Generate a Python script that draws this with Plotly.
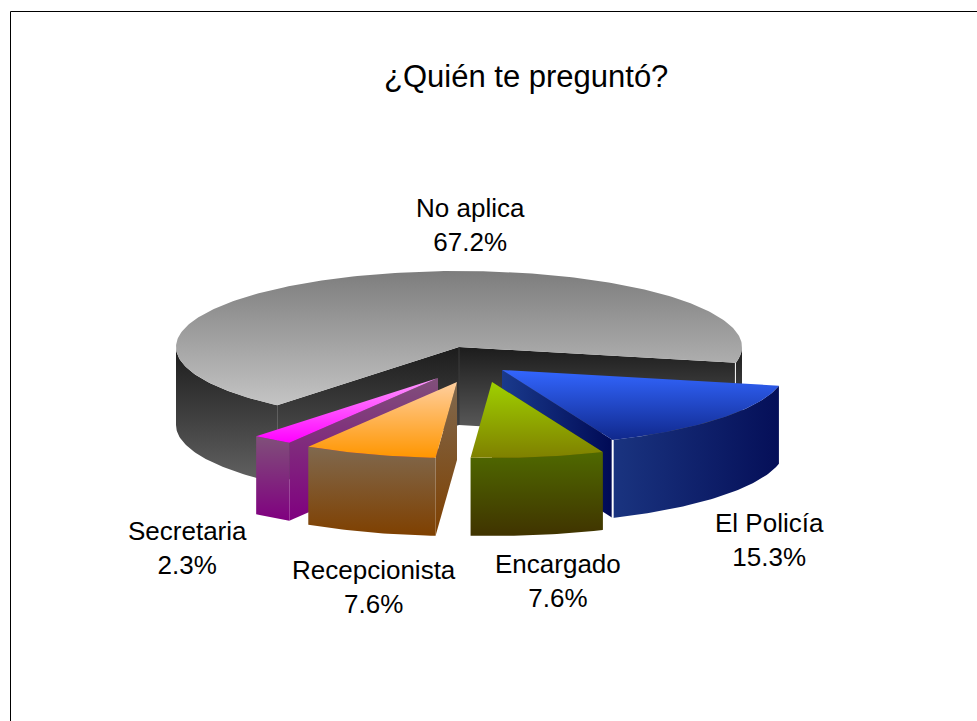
import math
import plotly.graph_objects as go

# ---- data ----
categories = ["El Policía", "Encargado", "Recepcionista", "Secretaria", "No aplica"]
values = [15.3, 7.6, 7.6, 2.3, 67.2]
title_text = "¿Quién te preguntó?"

# ---- styling / projection ----
START_ANGLE = 11.9
CX, CY = 459, 347
RX, RY = 283, 76
DEPTH = 78
FONT = "Liberation Sans"
offsets = {"El Policía": (43, 23), "Encargado": (33, 35), "Recepcionista": (-2, 35),
           "Secretaria": (-21, 31), "No aplica": (0, 0)}
label_pos = {"El Policía": (769, 540), "Encargado": (558, 581), "Recepcionista": (374, 587),
             "Secretaria": (187, 548), "No aplica": (470, 225)}
styles = {
    "No aplica": dict(top=("#7d7d7d", "#c4c4c4"), outer=("#1c1c1c", "#626262"),
                      inner=("#1c1c1c", "#626262")),
    "El Policía": dict(top=("#3366ff", "#10288c"), outer=("#1a3480", "#050f58"),
                       inner=("#1a3a8c", "#000a55"), horiz=True),
    "Encargado": dict(top=("#9fd000", "#7f8000"), outer=("#4f6900", "#403300"),
                      inner=("#4f6900", "#403300")),
    "Recepcionista": dict(top=("#ffcf9f", "#ff9600"), outer=("#80694f", "#7f4000"),
                          inner=("#80694f", "#7f4000")),
    "Secretaria": dict(top=("#ff9cff", "#ff00ff"), outer=("#80507a", "#800080"),
                       inner=("#80507a", "#800080")),
}
draw_order = ["No aplica", "El Policía", "Secretaria", "Recepcionista", "Encargado"]


def pt(a, off, dz=0):
    t = math.radians(a)
    return CX + off[0] + RX * math.cos(t), CY + off[1] + RY * math.sin(t) + dz


def arc(a1, a2, off, dz=0):
    n = max(2, int(abs(a2 - a1)) + 1)
    return [pt(a1 + (a2 - a1) * i / n, off, dz) for i in range(n + 1)]


def poly(fig, pts, colors, horizontal=False):
    xs = [p[0] for p in pts] + [pts[0][0]]
    ys = [p[1] for p in pts] + [pts[0][1]]
    if horizontal:
        grad = dict(type="horizontal", colorscale=[[0, colors[0]], [1, colors[1]]],
                    start=min(xs), stop=max(xs))
    else:
        grad = dict(type="vertical", colorscale=[[0, colors[0]], [1, colors[1]]],
                    start=min(ys), stop=max(ys))
    fig.add_trace(go.Scatter(x=xs, y=ys, mode="lines", fill="toself", fillgradient=grad,
                             line=dict(width=0), hoverinfo="skip", showlegend=False))


def edge_line(fig, p, q, color="#ffffff", width=1.5):
    fig.add_trace(go.Scatter(x=[p[0], q[0]], y=[p[1], q[1]], mode="lines",
                             line=dict(color=color, width=width),
                             hoverinfo="skip", showlegend=False))


# angular spans are derived from the values
spans = {}
a = START_ANGLE
total = sum(values)
for c, v in zip(categories, values):
    spans[c] = (a, a + v / total * 360)
    a += v / total * 360

fig = go.Figure()

for c in draw_order:
    a1, a2 = spans[c]
    off = offsets[c]
    st = styles[c]
    tip = (CX + off[0], CY + off[1])
    tip_b = (tip[0], tip[1] + DEPTH)
    horiz = st.get("horiz", False)
    if c == "No aplica":
        # inner walls seen through the gap
        p1, p2 = pt(a1, off), pt(a2, off)
        poly(fig, [tip, p2, (p2[0], p2[1] + DEPTH), tip_b], st["inner"])
        poly(fig, [tip, p1, (p1[0], p1[1] + DEPTH), tip_b], st["inner"])
        edge_line(fig, p2, (p2[0], p2[1] + 22), width=2)
        edge_line(fig, tip, tip_b, color="#3a3a3a", width=1)
        edge_line(fig, p1, (p1[0], p1[1] + DEPTH), color="#6a6a6a", width=1)
        # outer wall, left part and small right part
        poly(fig, arc(a1, 180, off) + arc(180, a1, off, DEPTH), st["outer"])
        poly(fig, arc(360, a2, off) + arc(a2, 360, off, DEPTH), st["outer"])
        poly(fig, [tip] + arc(a1, a2, off), st["top"])
    else:
        # radial wall facing the viewer
        p = pt(a2 if c == "El Policía" else a1, off)
        poly(fig, [tip, p, (p[0], p[1] + DEPTH), tip_b], st["inner"], horiz)
        poly(fig, arc(a1, a2, off) + arc(a2, a1, off, DEPTH), st["outer"], horiz)
        poly(fig, [tip] + arc(a1, a2, off), st["top"])
        if c == "El Policía":
            edge_line(fig, p, (p[0], p[1] + DEPTH), width=2)

for c, v in zip(categories, values):
    x, y = label_pos[c]
    fig.add_annotation(x=x, y=y, text=f"{c}<br>{v:.1f}%", showarrow=False,
                       font=dict(family=FONT, size=26, color="#000000"), align="center")

fig.add_annotation(x=526, y=76, text=title_text, showarrow=False,
                   font=dict(family=FONT, size=31, color="#000000"))

fig.add_shape(type="rect", x0=10.5, y0=11.5, x1=1100, y1=900,
              line=dict(color="#000000", width=1), fillcolor="rgba(0,0,0,0)")

fig.update_layout(
    width=977, height=721, margin=dict(l=0, r=0, t=0, b=0),
    paper_bgcolor="#ffffff", plot_bgcolor="#ffffff", showlegend=False,
    xaxis=dict(range=[0, 977], visible=False, fixedrange=True),
    yaxis=dict(range=[721, 0], visible=False, fixedrange=True),
)

fig.write_html("out.html", post_script="document.body.style.margin='0';document.body.style.overflow='hidden';",
               config=dict(displayModeBar=False))
